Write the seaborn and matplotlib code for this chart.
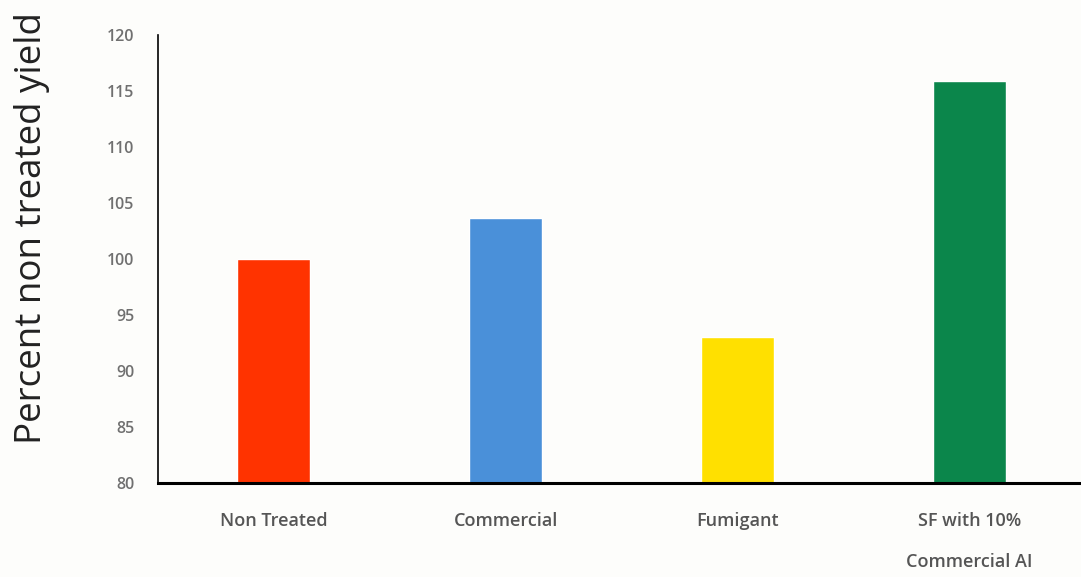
import matplotlib
matplotlib.use("Agg")
import matplotlib.pyplot as plt
import seaborn as sns
import pandas as pd

categories = ["Non Treated", "Commercial", "Fumigant", "SF with 10%\nCommercial AI"]
values = [100.0, 103.7, 93.0, 115.9]
colors = ["#FF3300", "#4A90D9", "#FFE000", "#0B864B"]
yticks = [80, 85, 90, 95, 100, 105, 110, 115, 120]

sns.set_theme(style="white")
plt.rcParams['font.family'] = ['Open Sans', 'DejaVu Sans']

df = pd.DataFrame({"cat": categories, "val": values})

fig = plt.figure(figsize=(10.81, 5.77), dpi=100)
ax = fig.add_axes([0.146, 0.163, 0.854, 0.776])
sns.barplot(data=df, x="cat", y="val", hue="cat", palette=colors, legend=False,
            width=0.315, ax=ax, saturation=1)

ax.set_ylim(80, 120)
ax.set_xlim(-0.5, 3.48)
ax.set_yticks(yticks)
ax.set_yticklabels([str(t) for t in yticks], fontsize=11.5, color="#707070",
                   fontweight="semibold")
ax.tick_params(axis="y", length=0, pad=17)
ax.tick_params(axis="x", length=0, pad=21)
for lbl in ax.get_xticklabels():
    lbl.set_fontsize(13)
    lbl.set_color("#555555")
    lbl.set_fontweight("semibold")
    lbl.set_linespacing(2.6)
    lbl.set_verticalalignment("top")
ax.set_xlabel("")
ax.set_ylabel("Percent non treated yield", fontsize=26.5, color="#222222")
ax.yaxis.set_label_coords(-0.136, 0.57)
ax.yaxis.label.set_verticalalignment("center")

for s in ["top", "right"]:
    ax.spines[s].set_visible(False)
ax.spines["left"].set_color("black")
ax.spines["left"].set_linewidth(1.2)
ax.spines["bottom"].set_color("black")
ax.spines["bottom"].set_linewidth(2.2)
ax.set_facecolor("#fdfdfb")
fig.patch.set_facecolor("#fdfdfb")

fig.savefig("out.png", dpi=100)
